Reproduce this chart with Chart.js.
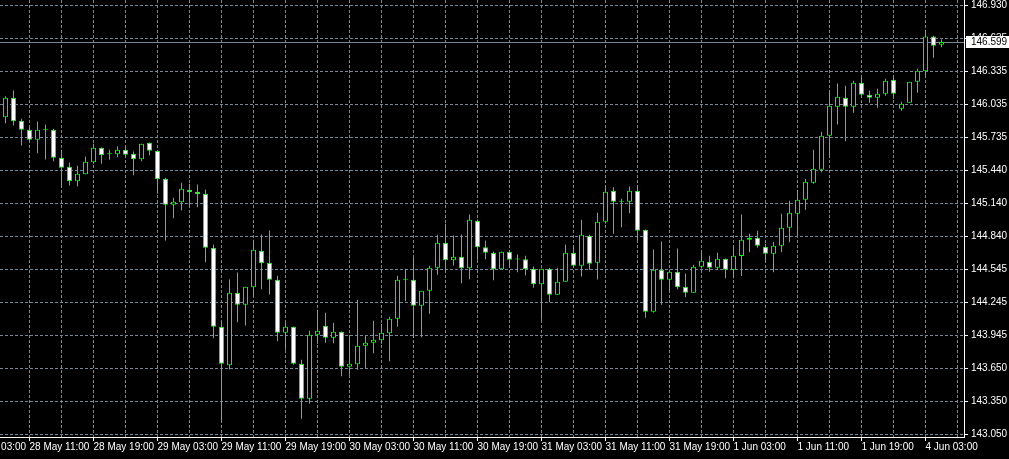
<!DOCTYPE html>
<html>
<head>
<meta charset="utf-8">
<title>H1 chart</title>
<style>
  html, body { margin: 0; padding: 0; background: #000; }
  #wrap { width: 1009px; height: 459px; position: relative; }
</style>
</head>
<body>
<div id="wrap"><canvas id="chart"></canvas></div>

<script src="https://cdn.jsdelivr.net/npm/chart.js"></script>
<script>
// hourly candles (first one is 28 May 08:00)
const opens = [
  145.920, 146.095, 145.887, 145.806, 145.715, 145.806, 145.806, 145.553, 145.471, 145.341,
  145.404, 145.513, 145.643, 145.585, 145.585, 145.625, 145.589, 145.540, 145.688, 145.616,
  145.363, 145.127, 145.151, 145.263, 145.245, 145.227, 144.739, 144.024, 143.677, 144.332,
  144.223, 144.382, 144.711, 144.603, 144.449, 143.970, 144.024, 143.689, 143.373, 143.952,
  144.033, 143.925, 143.979, 143.662, 143.686, 143.852, 143.879, 143.903, 143.966, 144.096,
  144.449, 144.449, 144.214, 144.350, 144.558, 144.784, 144.626, 144.657, 144.554, 144.983,
  144.744, 144.693, 144.545, 144.702, 144.633, 144.635, 144.549, 144.409, 144.549, 144.313,
  144.431, 144.693, 144.576, 144.847, 144.603, 144.974, 145.254, 145.155, 145.155, 145.254,
  144.901, 144.160, 144.540, 144.449, 144.521, 144.386, 144.332, 144.567, 144.612, 144.558,
  144.639, 144.540, 144.664, 144.811, 144.829, 144.748, 144.684, 144.757, 144.919, 145.046,
  145.173, 145.326, 145.444, 145.751, 146.014, 146.095, 146.014, 146.231, 146.122, 146.095,
  146.131, 146.258, 145.996, 146.050, 146.240, 146.336, 146.650, 146.575
];
const highs = [
  146.110, 146.161, 145.905, 145.838, 145.881, 145.854, 145.815, 145.625, 145.510, 145.480,
  145.564, 145.679, 145.646, 145.625, 145.655, 145.655, 145.610, 145.679, 145.691, 145.619,
  145.372, 145.191, 145.326, 145.317, 145.311, 145.266, 144.768, 144.066, 144.452, 144.515,
  144.386, 144.811, 144.859, 144.895, 144.485, 144.060, 144.027, 143.726, 143.988, 144.178,
  144.151, 144.060, 143.982, 143.943, 144.268, 143.943, 144.078, 144.051, 144.115, 144.485,
  144.549, 144.648, 144.350, 144.576, 144.856, 144.956, 144.850, 144.859, 145.040, 144.995,
  144.805, 144.705, 144.705, 144.705, 144.678, 144.666, 144.569, 144.549, 144.558, 144.558,
  144.768, 144.759, 144.992, 144.856, 145.055, 145.302, 145.287, 145.182, 145.293, 145.302,
  144.904, 144.723, 144.796, 144.540, 144.732, 144.506, 144.585, 144.702, 144.666, 144.693,
  144.642, 144.757, 145.040, 144.865, 144.892, 144.775, 144.793, 145.046, 145.164, 145.257,
  145.363, 145.625, 145.788, 146.149, 146.225, 146.204, 146.249, 146.276, 146.159, 146.177,
  146.267, 146.294, 146.059, 146.240, 146.358, 146.710, 146.656, 146.622
];
const lows = [
  145.865, 145.845, 145.664, 145.694, 145.594, 145.537, 145.522, 145.281, 145.302, 145.293,
  145.404, 145.498, 145.498, 145.534, 145.558, 145.553, 145.395, 145.522, 145.576, 145.227,
  144.805, 145.006, 145.076, 145.106, 145.106, 144.608, 143.921, 143.161, 143.638, 144.066,
  144.036, 144.301, 144.364, 144.316, 143.894, 143.816, 143.680, 143.192, 143.328, 143.870,
  143.879, 143.876, 143.577, 143.590, 143.635, 143.644, 143.785, 143.870, 143.713, 144.024,
  144.256, 143.925, 143.930, 144.142, 144.494, 144.518, 144.578, 144.418, 144.455, 144.630,
  144.635, 144.446, 144.545, 144.558, 144.518, 144.488, 144.377, 144.087, 144.247, 144.313,
  144.431, 144.560, 144.479, 144.540, 144.452, 144.958, 144.865, 144.925, 145.052, 144.798,
  144.105, 144.153, 144.223, 144.350, 144.364, 144.292, 144.332, 144.551, 144.521, 144.542,
  144.464, 144.464, 144.484, 144.699, 144.739, 144.608, 144.518, 144.699, 144.789, 144.847,
  145.082, 145.317, 145.422, 145.553, 145.854, 145.703, 145.960, 146.107, 146.050, 146.005,
  146.113, 146.086, 145.978, 146.050, 146.140, 146.297, 146.457, 146.553
];
const closes = [
  146.095, 145.884, 145.806, 145.715, 145.806, 145.806, 145.553, 145.462, 145.341, 145.408,
  145.516, 145.643, 145.576, 145.585, 145.625, 145.580, 145.540, 145.679, 145.616, 145.359,
  145.127, 145.155, 145.272, 145.241, 145.223, 144.739, 144.024, 143.689, 144.332, 144.223,
  144.386, 144.720, 144.599, 144.449, 143.970, 144.024, 143.689, 143.373, 143.952, 143.988,
  143.925, 143.979, 143.662, 143.689, 143.852, 143.879, 143.906, 143.970, 144.096, 144.449,
  144.449, 144.214, 144.350, 144.558, 144.784, 144.626, 144.657, 144.554, 144.992, 144.744,
  144.693, 144.545, 144.702, 144.630, 144.633, 144.545, 144.409, 144.549, 144.313, 144.431,
  144.693, 144.576, 144.856, 144.594, 144.974, 145.245, 145.155, 145.155, 145.254, 144.892,
  144.160, 144.540, 144.449, 144.521, 144.382, 144.332, 144.567, 144.621, 144.558, 144.639,
  144.540, 144.666, 144.811, 144.829, 144.757, 144.684, 144.757, 144.919, 145.055, 145.173,
  145.336, 145.453, 145.751, 146.023, 146.104, 146.014, 146.231, 146.122, 146.095, 146.131,
  146.249, 146.131, 146.041, 146.240, 146.339, 146.650, 146.566, 146.599
];

const lastPrice = 146.599;

// price axis labels, bottom to top
const yTickLabels = ['143.050', '143.350', '143.650', '143.945', '144.245', '144.545', '144.840',
                     '145.140', '145.440', '145.735', '146.035', '146.335', '146.635', '146.930'];

// time axis labels and the candle they belong to
const xLabels = ['28 May 03:00', '28 May 11:00', '28 May 19:00', '29 May 03:00', '29 May 11:00',
                 '29 May 19:00', '30 May 03:00', '30 May 11:00', '30 May 19:00', '31 May 03:00',
                 '31 May 11:00', '31 May 19:00', '1 Jun 03:00', '1 Jun 11:00', '1 Jun 19:00', '4 Jun 03:00'];
const xLabelIndex = [-5, 3, 11, 19, 27, 35, 43, 51, 59, 67, 75, 83, 91, 99, 107, 115];

const LIME = '#00ff00';
const GRID = '#778899';
const FONT = { family: '"Liberation Sans", Arial, sans-serif', size: 10 };

const bodies = opens.map((o, i) => ({ x: i, y: [o, closes[i]] }));
const wicks = lows.map((l, i) => ({ x: i, y: [l, highs[i]] }));
const bodyFill = opens.map((o, i) => closes[i] < o ? '#ffffff' : '#000000');

const yFirst = parseFloat(yTickLabels[0]);
const yLast = parseFloat(yTickLabels[yTickLabels.length - 1]);
const yStep = (yLast - yFirst) / (yTickLabels.length - 1);

// grey line at the last price + white tag on the axis
const priceTag = {
    id: 'priceTag',
    beforeDatasetsDraw(chart) {
        const { ctx, chartArea, scales: { y } } = chart;
        const py = Math.round(y.getPixelForValue(lastPrice)) + 0.5;
        ctx.save();
        ctx.strokeStyle = GRID;
        ctx.lineWidth = 1;
        ctx.beginPath();
        ctx.moveTo(chartArea.left, py);
        ctx.lineTo(chartArea.right, py);
        ctx.stroke();
        ctx.restore();
    },
    afterDraw(chart) {
        const { ctx, chartArea, scales: { y } } = chart;
        const py = Math.round(y.getPixelForValue(lastPrice));
        ctx.save();
        ctx.fillStyle = '#ffffff';
        ctx.fillRect(chartArea.right + 2, py - 6, 45, 12);
        ctx.fillStyle = '#000000';
        ctx.font = '10px "Liberation Sans", Arial, sans-serif';
        ctx.textBaseline = 'middle';
        ctx.fillText(lastPrice.toFixed(3), chartArea.right + 7, py + 0.5);
        ctx.restore();
    }
};

new Chart(document.getElementById('chart'), {
    type: 'bar',
    data: {
        datasets: [
            {
                label: 'body',
                data: bodies,
                order: 0,
                grouped: false,
                backgroundColor: bodyFill,
                borderColor: LIME,
                borderWidth: 1,
                borderSkipped: false,
                inflateAmount: 0,
                barThickness: 5,
                maxBarThickness: 5,
                minBarLength: 1
            },
            {
                label: 'wick',
                data: wicks,
                order: 1,
                grouped: false,
                backgroundColor: LIME,
                borderWidth: 0,
                inflateAmount: 0,
                barThickness: 1,
                maxBarThickness: 1
            }
        ]
    },
    options: {
        responsive: true,
        maintainAspectRatio: false,
        animation: false,
        events: [],
        layout: { padding: 0 },
        plugins: { legend: { display: false }, tooltip: { enabled: false } },
        scales: {
            x: {
                type: 'linear',
                offset: false,
                min: -0.6875,
                max: 119.8125,
                afterBuildTicks: (scale) => {
                    const vals = new Set(xLabelIndex);
                    for (let k = 3; k <= 119; k += 4) vals.add(k);
                    scale.ticks = [...vals].sort((a, b) => a - b).map(v => ({ value: v }));
                },
                afterFit: (scale) => {
                    scale.height = 22;
                    scale.paddingLeft = 0;
                    scale.paddingRight = 0;
                },
                grid: {
                    offset: false,
                    color: GRID,
                    lineWidth: 1,
                    tickLength: 4,
                    tickColor: (ctx) => (ctx.tick && xLabelIndex.includes(ctx.tick.value)) ? '#ffffff' : 'rgba(0,0,0,0)'
                },
                border: { color: '#ffffff', width: 1, dash: [3, 2] },
                ticks: {
                    autoSkip: false,
                    maxRotation: 0,
                    align: 'start',
                    padding: 0,
                    color: '#ffffff',
                    font: FONT,
                    callback: (value) => {
                        const j = xLabelIndex.indexOf(value);
                        return j >= 0 ? xLabels[j] : '';
                    }
                }
            },
            y: {
                type: 'linear',
                position: 'right',
                min: 143.02739,
                max: 146.97974,
                afterBuildTicks: (scale) => {
                    scale.ticks = yTickLabels.map((_, i) => ({ value: yFirst + i * yStep }));
                },
                afterFit: (scale) => {
                    scale.width = 45;
                    scale.paddingTop = 0;
                    scale.paddingBottom = 0;
                },
                grid: {
                    color: GRID,
                    lineWidth: 1,
                    tickLength: 4,
                    tickColor: '#ffffff'
                },
                border: { color: '#ffffff', width: 1, dash: [3, 2] },
                ticks: {
                    autoSkip: false,
                    padding: 3,
                    color: '#ffffff',
                    font: FONT,
                    callback: (value, i) => yTickLabels[i]
                }
            }
        }
    },
    plugins: [priceTag]
});
</script>
</body>
</html>
